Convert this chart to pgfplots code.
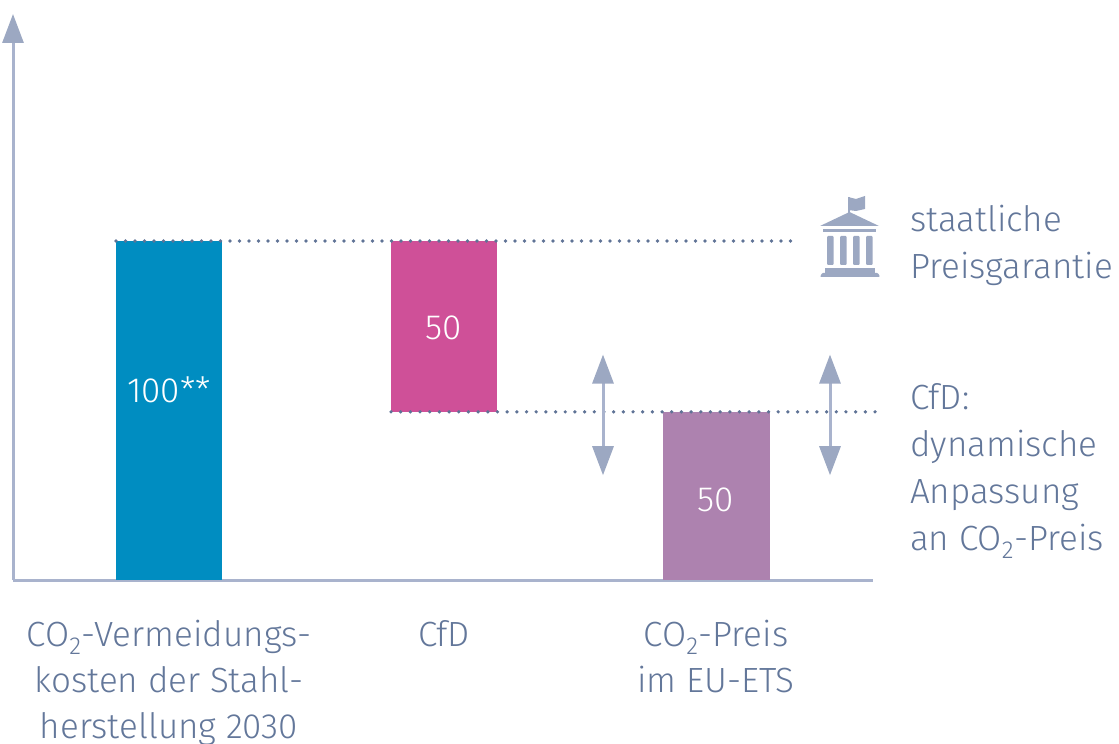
\documentclass[border=0pt]{standalone}
\usepackage{fontspec}
\setmainfont{Fira Sans Light}
\usepackage{pgfplots}
\pgfplotsset{compat=1.18}
\usetikzlibrary{arrows.meta}
\definecolor{axisc}{HTML}{A9B3CD}
\definecolor{headc}{HTML}{9CA8C2}
\definecolor{dotc}{HTML}{5F7396}
\definecolor{textc}{HTML}{63779A}
\definecolor{blueb}{HTML}{008DC1}
\definecolor{pinkb}{HTML}{CF5098}
\definecolor{purpb}{HTML}{AD82AF}
\newcommand{\lab}{\fontsize{35}{46}\selectfont}
\tikzset{myarr/.style={draw=axisc,line width=3pt}}
\begin{document}
\begin{tikzpicture}[x=1pt,y=1pt]
\useasboundingbox (0,0) rectangle (1119,744);
\begin{axis}[
  at={(13pt,164pt)}, anchor=origin,
  scale only axis, width=860pt, height=566pt,
  xmin=13, xmax=873, ymin=0, ymax=166.96,
  axis x line=bottom, axis y line=left,
  x axis line style={-,draw=axisc,line width=3pt},
  y axis line style={-{Triangle[width=21pt,length=29pt,color=headc]},draw=axisc,line width=3pt},
  xtick={169,444,716}, ytick=\empty,
  major tick length=0pt,
  xticklabels={{CO\textsubscript{2}-Vermeidungs-\\kosten der Stahl-\\herstellung 2030},{CfD},{CO\textsubscript{2}-Preis\\im EU-ETS}},
  xticklabel style={align=center,font=\lab,text=textc,anchor=north,yshift=-40pt,inner sep=0pt},
  clip=false,
]
\addplot[fill=blueb,draw=none] coordinates {(116,0)(116,100)(222,100)(222,0)} -- cycle;
\addplot[fill=pinkb,draw=none] coordinates {(391,49.6)(391,100)(497,100)(497,49.6)} -- cycle;
\addplot[fill=purpb,draw=none] coordinates {(663,0)(663,49.6)(770,49.6)(770,0)} -- cycle;
\addplot[dotc,line width=3.7pt,line cap=round,dash pattern=on 0pt off 9.5pt] coordinates {(116,100)(792,100)};
\addplot[dotc,line width=3.7pt,line cap=round,dash pattern=on 0pt off 9.68pt] coordinates {(391,49.6)(875,49.6)};
\addplot[myarr,{Triangle[width=21pt,length=29pt,color=headc]}-{Triangle[width=21pt,length=29pt,color=headc]}] coordinates {(603,66.5)(603,30.9)};
\addplot[myarr,{Triangle[width=21pt,length=29pt,color=headc]}-{Triangle[width=21pt,length=29pt,color=headc]}] coordinates {(830,66.5)(830,30.9)};
\node[text=white,font=\lab] at (axis cs:169,56) {100**};
\node[text=white,font=\lab] at (axis cs:444,74.5) {50};
\node[text=white,font=\lab] at (axis cs:716,23.5) {50};
\end{axis}
\begin{scope}[shift={(0,744)},y=-1pt]
\foreach \yy/\tt in {232/staatliche,279/Preisgarantie,410/CfD:,457/dynamische,504/Anpassung,551/{an CO\textsubscript{2}-Preis}}
  \node[anchor=base west,inner sep=0pt,text=textc,font=\lab] at (910,\yy) {\tt};
% icon
\fill[headc] (848,197) rectangle (850,213);
\fill[headc] (848,197) -- (856,199) -- (865,196) -- (865,209) -- (856,211) -- (848,210) -- cycle;
\fill[headc] (849.5,212) -- (879,226) -- (820,226) -- cycle;
\fill[headc] (823,229) rectangle (876,232);
\foreach \xx in {827,840,853,866}
  \fill[headc,rounded corners=1pt] (\xx,236) rectangle (\xx+6.5,265);
\fill[headc] (825,268) rectangle (875,273);
\fill[headc,rounded corners=1pt] (822,273) -- (878,273) -- (880,277) -- (820,277) -- cycle;
\end{scope}
\end{tikzpicture}
\end{document}
